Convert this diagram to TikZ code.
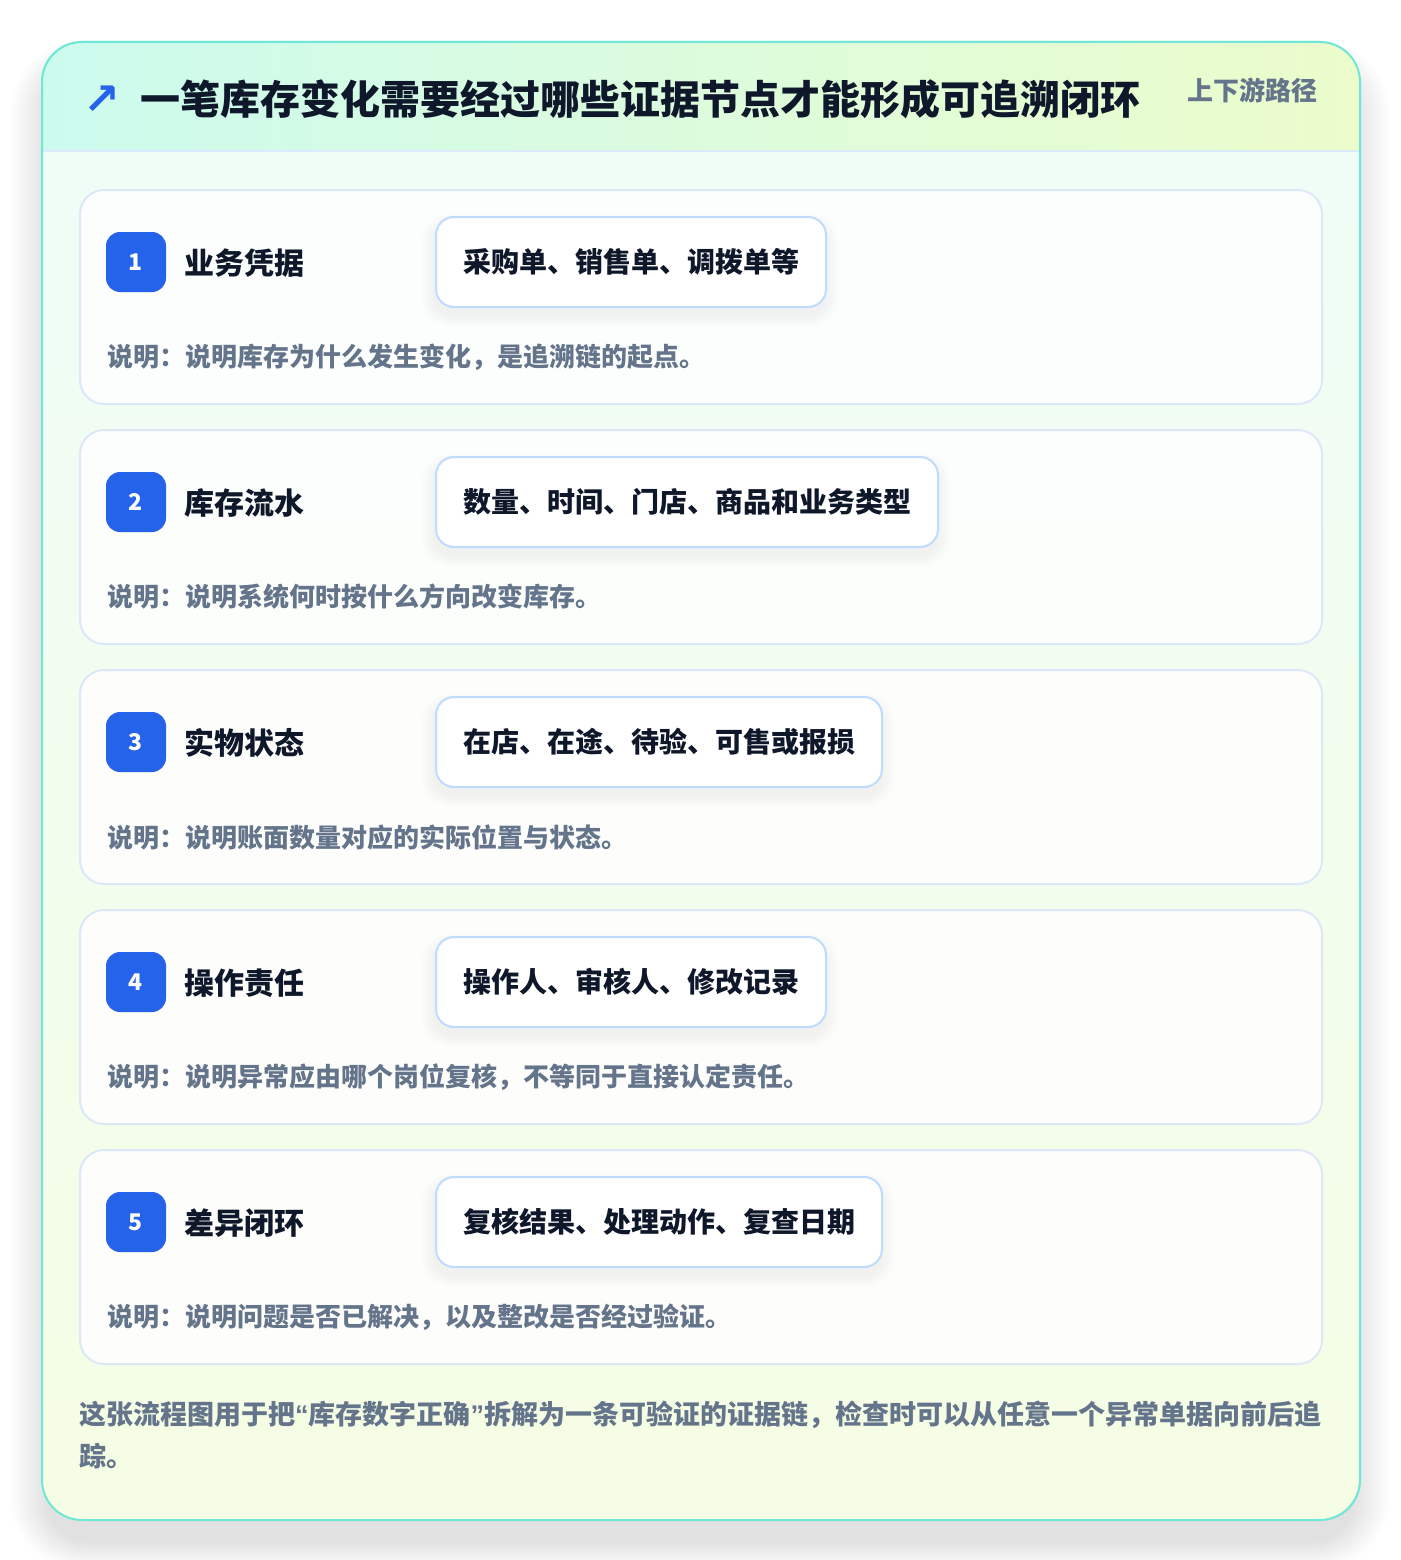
\documentclass[tikz,border=0pt]{standalone}
\usepackage{fontspec}
\setmainfont{Noto Sans CJK SC}
\newfontfamily\symfont{DejaVu Sans}
\newfontfamily\quotefont{Liberation Sans}
\definecolor{ink}{HTML}{0F172A}
\definecolor{muted}{HTML}{64748B}
\definecolor{brand}{HTML}{2563EB}
\definecolor{outerline}{HTML}{6EE7D6}
\definecolor{cardline}{HTML}{DCE8F8}
\definecolor{pillline}{HTML}{BFDBFE}
\definecolor{hdrL}{HTML}{CCFBEE}
\definecolor{hdrR}{HTML}{ECFCCB}
\definecolor{bodyT}{HTML}{EFFDF8}
\definecolor{bodyB}{HTML}{F5FDE4}
\definecolor{hdrline}{HTML}{DBEAFE}
\tikzset{
  card/.style={draw=cardline, line width=2pt, fill=white, fill opacity=0.85, draw opacity=1, text opacity=1, rounded corners=24pt, minimum width=1242pt, minimum height=214pt, anchor=north west, inner sep=0pt},
  badge/.style={fill=brand, rounded corners=14pt, minimum width=60pt, minimum height=60pt, inner sep=0pt, text=white, font=\fontsize{23}{26}\selectfont\bfseries},
  steptitle/.style={anchor=west, inner sep=0pt, text=ink, font=\fontsize{30}{36}\selectfont\bfseries},
  pill/.style={draw=pillline, line width=2pt, fill=white, rounded corners=18pt, anchor=west, inner xsep=27pt, inner ysep=0pt, minimum height=90pt, text=ink, font=\fontsize{28}{34}\selectfont\bfseries},
  desc/.style={anchor=west, inner sep=0pt, text=muted, font=\fontsize{26}{32}\selectfont\bfseries},
}
\begin{document}
\begin{tikzpicture}[x=1pt,y=-1pt]
\useasboundingbox (0,0) rectangle (1400,1560);
\fill[white] (0,0) rectangle (1400,1560);
% outer shadow
\foreach \i in {1,...,30}{
  \fill[black, opacity=0.003, rounded corners=40+\i] (49-\i*1.3,41-\i*0.8+26) rectangle (1351+\i*1.3,1519+\i*0.9+22);
}
% outer card body
\shade[rounded corners=40pt, top color=bodyT, bottom color=bodyB] (41,41) rectangle (1359,1519);
\begin{scope}
  \clip[rounded corners=40pt] (41,41) rectangle (1359,1519);
  \shade[left color=hdrL, right color=hdrR] (41,41) rectangle (1359,151);
  \draw[hdrline, line width=2pt] (41,151) -- (1359,151);
\end{scope}
\node[draw=outerline, line width=2pt, rounded corners=40pt, minimum width=1318pt, minimum height=1478pt, anchor=north west, inner sep=0pt] (outer) at (41,41) {};
% header
\node[anchor=center, inner sep=0pt, text=brand, font=\symfont\bfseries\fontsize{44}{48}\selectfont] (icon) at (102,100) {↗};
\node[anchor=west, inner sep=0pt, text=ink, font=\fontsize{40}{48}\selectfont\bfseries] (title) at (140,99) {一笔库存变化需要经过哪些证据节点才能形成可追溯闭环};
\node[anchor=east, inner sep=0pt, text=muted, font=\fontsize{26}{32}\selectfont\bfseries] (tag) at (1318,90) {上下游路径};
% cards
\foreach \k/\t/\p/\r/\d in {
  1/业务凭据/采购单、销售单、调拨单等/825/说明：说明库存为什么发生变化，是追溯链的起点。,
  2/库存流水/数量、时间、门店、商品和业务类型/937/说明：说明系统何时按什么方向改变库存。,
  3/实物状态/在店、在途、待验、可售或报损/881/说明：说明账面数量对应的实际位置与状态。,
  4/操作责任/操作人、审核人、修改记录/825/说明：说明异常应由哪个岗位复核，不等同于直接认定责任。,
  5/差异闭环/复核结果、处理动作、复查日期/881/说明：说明问题是否已解决，以及整改是否经过验证。}{
  \pgfmathsetmacro{\top}{189+(\k-1)*240}
  \node[card] (card\k) at (79,\top) {};
  \node[badge] (badge\k) at (136,\top+73) {\k};
  \node[steptitle] (title\k) at (184,\top+74) {\t};
  \foreach \s in {1,...,12}{
    \fill[black, opacity=0.005, rounded corners=18+\s] (435-\s*1.2,\top+28-\s*1.0+8) rectangle (\r+\s*1.2,\top+118+\s*1.0+8);
  }
  \node[pill] (pill\k) at (435,\top+73) {\p};
  \node[desc] (desc\k) at (107,\top+168) {\d};
}
% footer
\node[anchor=north west, inner sep=0pt, align=left, text=muted, font=\fontsize{27}{42}\selectfont\bfseries] (note) at (79,1401) {这张流程图用于把{\quotefont“}库存数字正确{\quotefont”}拆解为一条可验证的证据链，检查时可以从任意一个异常单据向前后追\\踪。};
\end{tikzpicture}
\end{document}
